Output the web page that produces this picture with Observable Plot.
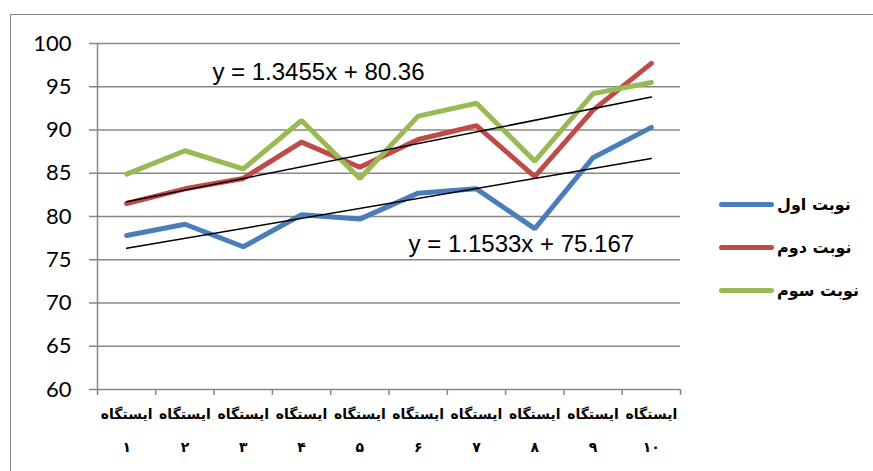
<!DOCTYPE html>
<html><head><meta charset="utf-8">
<script src="https://cdn.jsdelivr.net/npm/d3@7"></script>
<script src="https://cdn.jsdelivr.net/npm/@observablehq/plot@0.6"></script>
<style>
html,body{margin:0;padding:0;background:#fff;overflow:hidden}
#wrap{position:relative;width:873px;height:471px;overflow:hidden}
#frame{position:absolute;left:10px;top:14px;width:900px;height:500px;border:1.5px solid #888;box-sizing:border-box}
#chart{position:absolute;left:0;top:0}
#legend{position:absolute;left:719px;top:183px;font-family:"DejaVu Sans";font-weight:bold;font-size:16px;color:#000}
.item{display:flex;align-items:center;height:43px}
.sw{width:55px;height:5px;border-radius:3px;margin-right:3px}
</style></head>
<body><div id="wrap"><div id="frame"></div><div id="chart"></div><div id="legend"></div></div>
<script>
const stationWord = "ایستگاه";
const stationNums = ["۱","۲","۳","۴","۵","۶","۷","۸","۹","۱۰"];
const seriesNames = ["نوبت اول","نوبت دوم","نوبت سوم"];
const seriesColors = ["#4A7EBB","#BE4B48","#98B954"];
const first  = [77.8, 79.1, 76.5, 80.2, 79.7, 82.7, 83.2, 78.6, 86.8, 90.3];
const second = [81.5, 83.2, 84.4, 88.6, 85.7, 88.9, 90.5, 84.6, 92.3, 97.7];
const third  = [84.9, 87.6, 85.5, 91.1, 84.4, 91.6, 93.1, 86.4, 94.2, 95.5];
const yTicks = [60, 65, 70, 75, 80, 85, 90, 95, 100];
const trendSlopes = [1.1533, 1.3455];
const trendIntercepts = [75.167, 80.36];
const trendLabels = ["y = 1.1533x + 75.167", "y = 1.3455x + 80.36"];
const trendLabelX = [7.77, 4.29];
const trendLabelY = [76.76, 96.65];

const seriesValues = [first, second, third];
const rows = [];
seriesValues.forEach((vals, s) => vals.forEach((v, i) => rows.push({x: i + 1, y: v, s: seriesNames[s]})));
const n = stationNums.length;
const trendRows = [];
trendSlopes.forEach((m, k) => [1, n].forEach(x => trendRows.push({x, y: m * x + trendIntercepts[k], k})));
const labelRows = trendLabels.map((t, k) => ({x: trendLabelX[k], y: trendLabelY[k], t}));
const edges = d3.range(0.5, n + 1, 1);
const centers = d3.range(1, n + 1);

const chart = Plot.plot({
  width: 873, height: 471,
  marginLeft: 97, marginRight: 193, marginTop: 43, marginBottom: 82,
  style: {background: "transparent", overflow: "visible"},
  x: {type: "linear", domain: [0.5, n + 0.5]},
  y: {domain: [60, 100]},
  color: {domain: seriesNames, range: seriesColors},
  marks: [
    Plot.gridY(yTicks, {stroke: "#878787", strokeOpacity: 1, strokeWidth: 1.5}),
    Plot.ruleX([0.5], {stroke: "#878787", strokeWidth: 1.5}),
    Plot.axisY({ticks: yTicks, tickSize: 8, tickPadding: 18, stroke: "#878787", strokeWidth: 1.5, fill: "#000", fontSize: 22, fontFamily: "Lato", label: null}),
    Plot.axisX({ticks: edges, tickSize: 6, stroke: "#878787", strokeWidth: 1.5, tickFormat: () => "", label: null}),
    Plot.axisX({ticks: centers, tickSize: 0, tickPadding: 6, tickFormat: i => stationWord + "\n" + stationNums[i - 1], fontSize: 14, fontWeight: "bold", fontFamily: "DejaVu Sans", lineHeight: 2.35, fill: "#000", label: null}),
    Plot.line(rows, {x: "x", y: "y", z: "s", stroke: "s", strokeWidth: 5, strokeLinejoin: "miter", strokeLinecap: "round"}),
    Plot.line(trendRows, {x: "x", y: "y", z: "k", stroke: "#000", strokeWidth: 1.5}),
    Plot.text(labelRows, {x: "x", y: "y", text: "t", fontSize: 24, fontFamily: "Liberation Sans", fill: "#000"})
  ]
});
document.getElementById("chart").appendChild(chart);

const legend = document.getElementById("legend");
seriesNames.forEach((name, i) => {
  const d = document.createElement("div");
  d.className = "item";
  d.innerHTML = `<div class="sw" style="background:${seriesColors[i]}"></div><span>${name}</span>`;
  legend.appendChild(d);
});
</script>
</body></html>
